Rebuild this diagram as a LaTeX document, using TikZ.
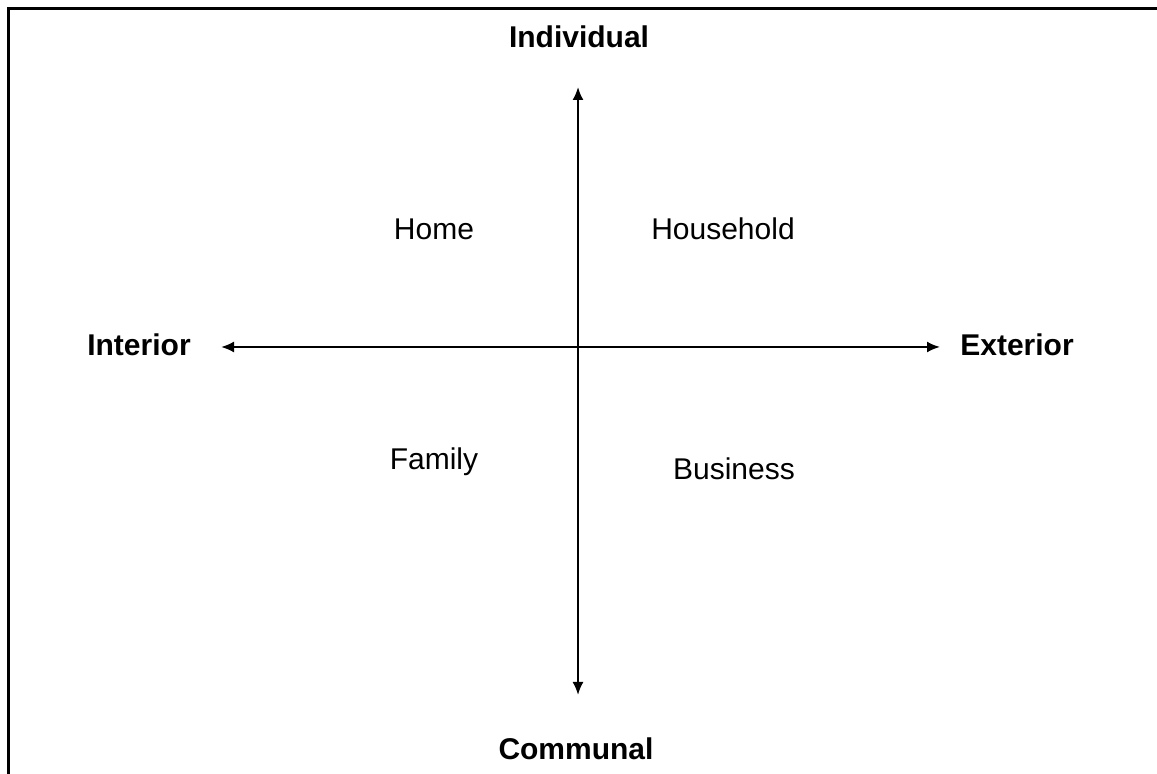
\documentclass[tikz,border=0pt]{standalone}
\usepackage{fontspec}
\setmainfont{Liberation Sans}
\usetikzlibrary{arrows.meta}
\begin{document}
\begin{tikzpicture}[x=0.5pt, y=-0.5pt, >={Latex[length=6.5pt,width=5.5pt]},
    axislabel/.style={font=\fontsize{15}{18}\selectfont\bfseries},
    quadlabel/.style={font=\fontsize{15}{18}\selectfont},
    axisline/.style={line width=1pt}]
    \useasboundingbox (0,0) rectangle (1157,774);
    % frame (cut off at right and bottom)
    \draw[line width=1.4pt] (8.5,774) -- (8.5,8.5) -- (1157,8.5);
    % axis labels
    \node[axislabel] (indiv) at (579,37) {Individual};
    \node[axislabel] (comm) at (576,749) {Communal};
    \node[axislabel] (inter) at (139,345) {Interior};
    \node[axislabel] (exter) at (1017,345) {Exterior};
    % arrow ends
    \coordinate (up) at (578,87);
    \coordinate (down) at (578,695);
    \coordinate (left) at (221,347);
    \coordinate (right) at (940,347);
    \draw[axisline,<->] (down) -- (up);
    \draw[axisline,<->] (left) -- (right);
    % quadrants
    \node[quadlabel] (home) at (434,229) {Home};
    \node[quadlabel] (household) at (723,229) {Household};
    \node[quadlabel] (family) at (434,462) {Family};
    \node[quadlabel] (business) at (734,469) {Business};
\end{tikzpicture}
\end{document}
